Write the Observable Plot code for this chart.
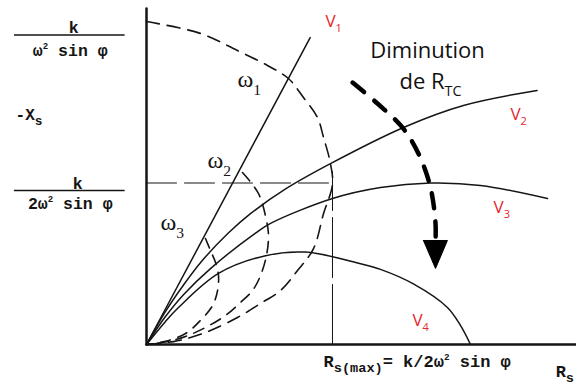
<!DOCTYPE html>
<html>
<head>
<meta charset="utf-8">
<script src="https://cdn.jsdelivr.net/npm/d3@7"></script>
<script src="https://cdn.jsdelivr.net/npm/@observablehq/plot@0.6"></script>
<style>
  html, body { margin: 0; padding: 0; background: #fff; }
</style>
</head>
<body>
<div id="chart"></div>
<script>
// ---- data (x in units of Rs(max), y in units of k/(2ω² sin φ)) ----
const V1 = [[0, 0], [0.88, 1.9]];
const V2 = [[0, 0], [0.1, 0.2], [0.2, 0.37], [0.3, 0.52], [0.44, 0.69], [0.559, 0.81], [0.75, 0.965], [0.989, 1.12], [1.382, 1.344], [1.704, 1.48], [2.1, 1.573]];
const V3 = [[0, 0], [0.1, 0.17], [0.2, 0.31], [0.344, 0.47], [0.586, 0.69], [0.667, 0.75], [1.0, 0.904], [1.258, 0.972], [1.527, 1.0], [1.796, 0.985], [2.156, 0.904]];
const V4 = [[0, 0], [0.1, 0.14], [0.172, 0.229], [0.387, 0.44], [0.64, 0.55], [0.855, 0.572], [1.15, 0.5], [1.258, 0.465], [1.435, 0.375], [1.618, 0.229], [1.688, 0.118], [1.742, 0]];

const omega1 = [[0, 2.0], [0.29, 1.926], [0.489, 1.82], [0.65, 1.728], [0.763, 1.647], [0.844, 1.529], [0.919, 1.406], [0.952, 1.282], [0.989, 1.121], [1.0, 0.99], [0.952, 0.811], [0.898, 0.594], [0.812, 0.458], [0.72, 0.334], [0.613, 0.254], [0.489, 0.167], [0.344, 0.087], [0.237, 0.043], [0.145, 0.018], [0, 0]];
const omega2 = [[0.516, 1.065], [0.602, 0.935], [0.645, 0.768], [0.656, 0.675], [0.645, 0.551], [0.613, 0.427], [0.57, 0.334], [0.505, 0.26], [0.425, 0.18], [0.317, 0.105], [0.21, 0.05], [0.102, 0.015], [0, 0]];
const omega3 = [[0.317, 0.656], [0.344, 0.582], [0.371, 0.508], [0.387, 0.427], [0.382, 0.334], [0.355, 0.241], [0.29, 0.149], [0.21, 0.068], [0.102, 0.02], [0, 0]];

const arrowShaft = [[1.108, 1.622], [1.242, 1.492], [1.376, 1.344], [1.462, 1.183], [1.527, 0.972], [1.554, 0.749], [1.554, 0.644]];
const arrowHead = [[1.489, 0.644], [1.618, 0.644], [1.554, 0.471], [1.489, 0.644]];

const refH = [[0, 1], [1, 1]];          // k/(2ω² sin φ) level
const refV = [[1, 0], [1, 1.07]];        // Rs(max)
const axisX = [[0, 0], [2.312, 0]];
const axisY = [[0, 0], [0, 2.08]];

const vLabels = ["V_1", "V_2", "V_3", "V_4"];
const vLabelX = [0.962, 1.957, 1.866, 1.43];
const vLabelY = [2.0, 1.424, 0.848, 0.149];

const wLabels = ["ω_1", "ω_2", "ω_3"];
const wLabelX = [0.489, 0.328, 0.075];
const wLabelY = [1.641, 1.139, 0.755];

const noteLines = ["Diminution", "de R_{TC}"];
const noteX = [1.511, 1.527];
const noteY = [1.82, 1.628];

const fracText = ["k", "ω^2 sin φ", "k", "2ω^2 sin φ"];
const fracX = [-0.392, -0.41, -0.37, -0.41];
const fracY = [1.963, 1.82, 0.997, 0.873];
const fracBarY = [1.916, 0.954];
const fracBarX1 = -0.71, fracBarX2 = -0.115;

const yLabel = ["-X_s"];
const xLabels = ["R_{s(max)}= k/2ω^2 sin φ", "R_s"];
const xLabelX = [0.952, 2.2];
const xLabelY = [-0.105, -0.165];

const toObj = arr => arr.map(([x, y]) => ({x, y}));
const ink = "#151515";
const red = "#e6262c";
const mono = "'Liberation Mono', 'DejaVu Sans Mono', monospace";
const sans = "'Open Sans', 'Noto Sans', sans-serif";
const serif = "'Liberation Serif', 'DejaVu Serif', serif";

const plot = Plot.plot({
  width: 576,
  height: 387,
  marginLeft: 146,
  marginRight: 0,
  marginTop: 21,
  marginBottom: 43,
  x: {domain: [0, 2.312], axis: null},
  y: {domain: [0, 2], axis: null},
  marks: [
    // reference lines
    Plot.line(toObj(refH), {x: "x", y: "y", stroke: ink, strokeWidth: 1, strokeDasharray: "30,8"}),
    Plot.line(toObj(refV), {x: "x", y: "y", stroke: ink, strokeWidth: 1, strokeDasharray: "60,7"}),
    // omega loci (dashed)
    Plot.line(toObj(omega1), {x: "x", y: "y", stroke: ink, strokeWidth: 1.6, strokeDasharray: "13,8", curve: "catmull-rom"}),
    Plot.line(toObj(omega2), {x: "x", y: "y", stroke: ink, strokeWidth: 1.6, strokeDasharray: "11,8", curve: "catmull-rom"}),
    Plot.line(toObj(omega3), {x: "x", y: "y", stroke: ink, strokeWidth: 1.6, strokeDasharray: "10,8", curve: "catmull-rom"}),
    // V curves
    Plot.line(toObj(V1), {x: "x", y: "y", stroke: ink, strokeWidth: 1.5}),
    Plot.line(toObj(V2), {x: "x", y: "y", stroke: ink, strokeWidth: 1.5, curve: "catmull-rom"}),
    Plot.line(toObj(V3), {x: "x", y: "y", stroke: ink, strokeWidth: 1.5, curve: "catmull-rom"}),
    Plot.line(toObj(V4), {x: "x", y: "y", stroke: ink, strokeWidth: 1.5, curve: "catmull-rom"}),
    // axes
    Plot.line(toObj(axisX), {x: "x", y: "y", stroke: ink, strokeWidth: 2.5}),
    Plot.line(toObj(axisY), {x: "x", y: "y", stroke: ink, strokeWidth: 2.5}),
    // arrow
    Plot.line(toObj(arrowShaft), {x: "x", y: "y", stroke: "#000", strokeWidth: 4.5, strokeDasharray: "15,13", curve: "catmull-rom"}),
    Plot.line(toObj(arrowHead), {x: "x", y: "y", stroke: "#000", strokeWidth: 1, fill: "#000"}),
    // fraction bars
    Plot.ruleY(fracBarY, {x1: fracBarX1, x2: fracBarX2, stroke: ink, strokeWidth: 1.6}),
    // texts
    Plot.text(vLabels, {x: (d, i) => vLabelX[i], y: (d, i) => vLabelY[i], text: d => d, textAnchor: "start", fill: red, fontSize: 17, fontFamily: sans}),
    Plot.text(wLabels, {x: (d, i) => wLabelX[i], y: (d, i) => wLabelY[i], text: d => d, textAnchor: "start", fill: ink, fontSize: 24, fontFamily: serif}),
    Plot.text(noteLines, {x: (d, i) => noteX[i], y: (d, i) => noteY[i], text: d => d, fill: "#111", fontSize: 22, fontFamily: sans}),
    Plot.text(fracText, {x: (d, i) => fracX[i], y: (d, i) => fracY[i], text: d => d, fill: ink, fontSize: 16.5, fontWeight: "bold", fontFamily: mono}),
    Plot.text(yLabel, {x: -0.704, y: 1.424, text: d => d, textAnchor: "start", fill: ink, fontSize: 16, fontWeight: "bold", fontFamily: mono}),
    Plot.text(xLabels, {x: (d, i) => xLabelX[i], y: (d, i) => xLabelY[i], text: d => d, textAnchor: "start", fill: ink, fontSize: 17, fontWeight: "bold", fontFamily: mono})
  ]
});

document.getElementById("chart").appendChild(plot);

// Convert _x / _{..} and ^x / ^{..} into sub/superscript tspans (text stays real text)
(function rich(svg) {
  const ns = "http://www.w3.org/2000/svg";
  svg.querySelectorAll("text").forEach(t => {
    const s = t.textContent;
    if (!/[_^]/.test(s)) return;
    const g = t.closest("[font-size]");
    const fs = parseFloat(g ? g.getAttribute("font-size") : 12);
    const fam = (t.closest("[font-family]") || {getAttribute: () => ""}).getAttribute("font-family") || "";
    const isMono = /Mono/.test(fam);
    const subScale = isMono ? 0.8 : 0.65;
    const supScale = isMono ? 0.55 : 0.6;
    t.textContent = "";
    let shift = 0;
    const add = (txt, kind) => {
      const ts = document.createElementNS(ns, "tspan");
      ts.textContent = txt;
      const target = kind === "_" ? 0.32 * fs : kind === "^" ? -0.42 * fs : 0;
      if (target - shift !== 0) ts.setAttribute("dy", target - shift);
      shift = target;
      if (kind === "_") ts.setAttribute("font-size", subScale * fs);
      if (kind === "^") ts.setAttribute("font-size", supScale * fs);
      t.appendChild(ts);
    };
    const re = /([_^])(?:\{([^}]*)\}|(.))/g;
    let last = 0, m;
    while ((m = re.exec(s))) {
      if (m.index > last) add(s.slice(last, m.index), null);
      add(m[2] !== undefined ? m[2] : m[3], m[1]);
      last = re.lastIndex;
    }
    if (last < s.length) add(s.slice(last), null);
  });
})(plot);
</script>
</body>
</html>
